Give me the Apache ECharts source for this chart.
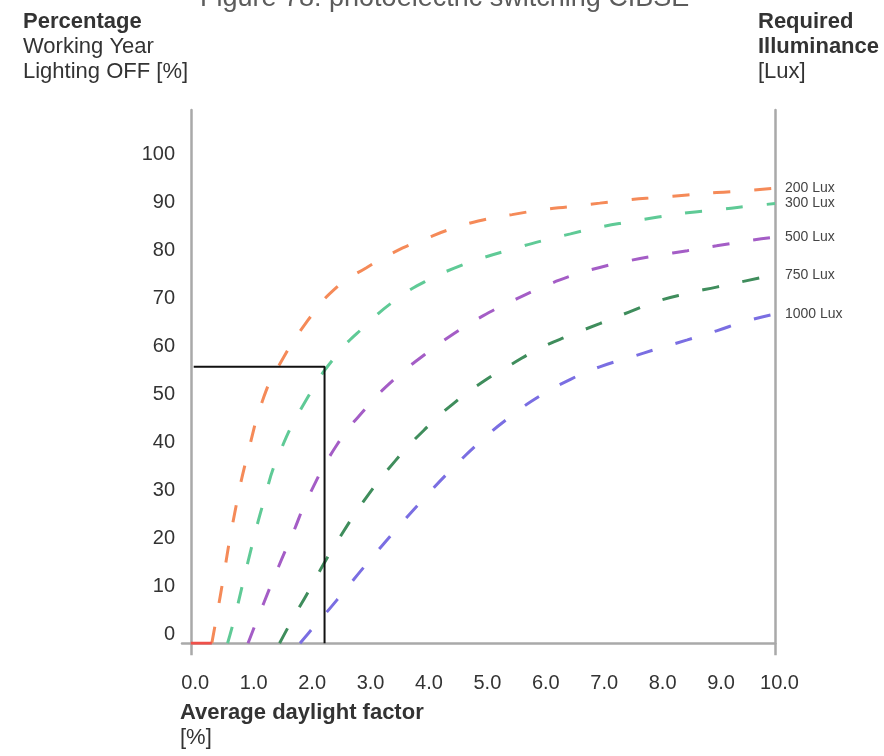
<!DOCTYPE html>
<html>
<head>
<meta charset="utf-8">
<script src="https://cdn.jsdelivr.net/npm/echarts@6/dist/echarts.min.js"></script>
<style>
  html, body { margin: 0; padding: 0; background: #fff; }
  #chart { width: 884px; height: 756px; }
</style>
</head>
<body>
<div id="chart"></div>
<script>
// Average daylight factor [%] against share of working year with lighting off [%]
const xTicks = [0, 1, 2, 3, 4, 5, 6, 7, 8, 9, 10];
const yTicks = [0, 10, 20, 30, 40, 50, 60, 70, 80, 90, 100];

const lux200X = [0.36, 0.5, 0.75, 1.0, 1.25, 1.5, 2.0, 2.5, 3.0, 3.5, 4.0, 4.5, 5.0, 5.5, 6.0, 6.5, 7.0, 7.5, 8.0, 8.5, 9.0, 9.5, 10];
const lux200Y = [0, 9.5, 27, 40.7, 51.3, 57.7, 67.2, 74.2, 78.2, 81.6, 84.2, 86.5, 88.2, 89.3, 90.3, 91.0, 91.7, 92.4, 92.9, 93.4, 93.9, 94.3, 94.8];

const lux300X = [0.63, 0.75, 1.0, 1.25, 1.5, 2.0, 2.5, 3.0, 3.5, 4.0, 4.5, 5.0, 5.5, 6.0, 6.5, 7.0, 7.5, 8.0, 8.5, 9.0, 9.5, 10];
const lux300Y = [0, 5.3, 18, 29.6, 39.1, 51.2, 60.1, 66.3, 71.5, 75.3, 78.1, 80.3, 82.1, 83.8, 85.3, 86.7, 87.8, 88.8, 89.7, 90.3, 91.0, 91.6];

const lux500X = [0.98, 1.25, 1.5, 1.75, 2.0, 2.5, 3.0, 3.5, 4.0, 4.5, 5.0, 5.5, 6.0, 6.5, 7.0, 7.5, 8.0, 8.5, 9.0, 9.5, 10];
const lux500Y = [0, 8.4, 15.9, 23, 30.2, 41.3, 49, 55.2, 60.1, 64.5, 68.2, 71.3, 74.1, 76.5, 78.3, 79.7, 80.8, 81.8, 82.8, 83.8, 84.6];

const lux750X = [1.52, 1.75, 2.0, 2.25, 2.5, 3.0, 3.5, 4.0, 4.5, 5.0, 5.5, 6.0, 6.5, 7.0, 7.5, 8.0, 8.5, 9.0, 9.5, 10];
const lux750Y = [0, 5.2, 10.5, 16, 21.1, 30.3, 38, 44.5, 50, 54.5, 58.2, 61.6, 64.2, 66.6, 69.0, 71.3, 72.9, 74.2, 75.5, 76.8];

const lux1000X = [1.87, 2.0, 2.25, 2.5, 3.0, 3.5, 4.0, 4.5, 5.0, 5.5, 6.0, 6.5, 7.0, 7.5, 8.0, 8.5, 9.0, 9.5, 10];
const lux1000Y = [0, 1.9, 5.4, 9.0, 16.4, 23.5, 30.3, 36.7, 42.5, 47.5, 51.7, 55.0, 57.6, 59.5, 61.4, 63.2, 65.1, 67.1, 68.6];

// flat start of the 200 Lux curve, before switching begins
const baseX = [0, 0.36];
const baseY = [0, 0];

// example reading: daylight factor 2.3 % at 300 Lux
const guideX = [0.05, 2.29, 2.29];
const guideY = [57.6, 57.6, 0];

const curveNames = ['200 Lux', '300 Lux', '500 Lux', '750 Lux', '1000 Lux'];
const curveX = [lux200X, lux300X, lux500X, lux750X, lux1000X];
const curveY = [lux200Y, lux300Y, lux500Y, lux750Y, lux1000Y];
const curveColors = ['#f58a58', '#5fca96', '#a45dc6', '#3f8d5c', '#7a6ee2'];

const pair = (xs, ys) => xs.map((x, i) => [x, ys[i]]);

const FONT = '"Liberation Sans", Arial, sans-serif';
const AXIS_GREY = '#a9a9a9';
const TEXT = '#333';

const chart = echarts.init(document.getElementById('chart'), null, { renderer: 'canvas' });

const series = curveNames.map((name, k) => ({
  name: name,
  type: 'line',
  data: pair(curveX[k], curveY[k]),
  showSymbol: false,
  smooth: 0.5,
  silent: true,
  lineStyle: { color: curveColors[k], width: 3, type: [17, 24] },
  endLabel: {
    show: true,
    formatter: '{a}',
    distance: 10,
    color: '#444',
    fontSize: 14,
    fontFamily: FONT
  },
  z: 3
}));

series.push({
  type: 'line',
  data: pair(baseX, baseY),
  showSymbol: false,
  silent: true,
  lineStyle: { color: '#f0504a', width: 3 },
  z: 4
});

series.push({
  type: 'line',
  data: pair(guideX, guideY),
  showSymbol: false,
  silent: true,
  lineStyle: { color: '#111', width: 2 },
  z: 5
});

const headStyle = { fontFamily: FONT, fontSize: 22, fontWeight: 'bold', color: TEXT, lineHeight: 25 };
const subStyle = { fontFamily: FONT, fontSize: 22, color: TEXT, lineHeight: 25 };

chart.setOption({
  animation: false,
  backgroundColor: '#fff',
  title: [
    {
      text: 'Figure 78: photoelectric switching CIBSE',
      left: 200, top: -15, padding: 0,
      textStyle: { fontFamily: FONT, fontSize: 27, fontWeight: 'normal', color: '#5c5c5c' }
    },
    {
      text: 'Percentage',
      subtext: 'Working Year\nLighting OFF [%]',
      left: 23, top: 9, padding: 0, itemGap: 0,
      textStyle: headStyle, subtextStyle: subStyle
    },
    {
      text: 'Required\nIlluminance',
      subtext: '[Lux]',
      left: 758, top: 9, padding: 0, itemGap: 0,
      textStyle: headStyle, subtextStyle: subStyle
    },
    {
      text: 'Average daylight factor',
      subtext: '[%]',
      left: 180, top: 700, padding: 0, itemGap: 0,
      textStyle: headStyle, subtextStyle: subStyle
    }
  ],
  grid: {
    left: 182, right: 109, top: 110, bottom: 112.7,
    containLabel: false, outerBoundsMode: 'none'
  },
  xAxis: {
    type: 'value',
    min: -0.15, max: 10,
    axisLine: { show: true, onZero: true, lineStyle: { color: AXIS_GREY, width: 2.5 } },
    axisTick: { show: true, customValues: [0, 10], length: 12, lineStyle: { color: AXIS_GREY, width: 2.5 } },
    axisLabel: {
      customValues: xTicks,
      formatter: v => v.toFixed(1),
      margin: 30,
      padding: [0, 0, 0, 9],
      fontFamily: FONT, fontSize: 20, color: TEXT
    },
    splitLine: { show: false }
  },
  yAxis: [
    {
      type: 'value',
      min: 0, max: 111.1,
      axisLine: { show: true, onZero: true, lineStyle: { color: AXIS_GREY, width: 2.5 } },
      axisTick: { show: false },
      axisLabel: {
        customValues: yTicks,
        margin: 7,
        verticalAlign: 'bottom',
        lineHeight: 17,
        fontFamily: FONT, fontSize: 20, color: TEXT
      },
      splitLine: { show: false }
    },
    {
      type: 'value',
      position: 'right',
      min: 0, max: 111.1,
      axisLine: { show: true, onZero: false, lineStyle: { color: AXIS_GREY, width: 2.5 } },
      axisTick: { show: false },
      axisLabel: { show: false },
      splitLine: { show: false }
    }
  ],
  series: series
});
</script>
</body>
</html>
